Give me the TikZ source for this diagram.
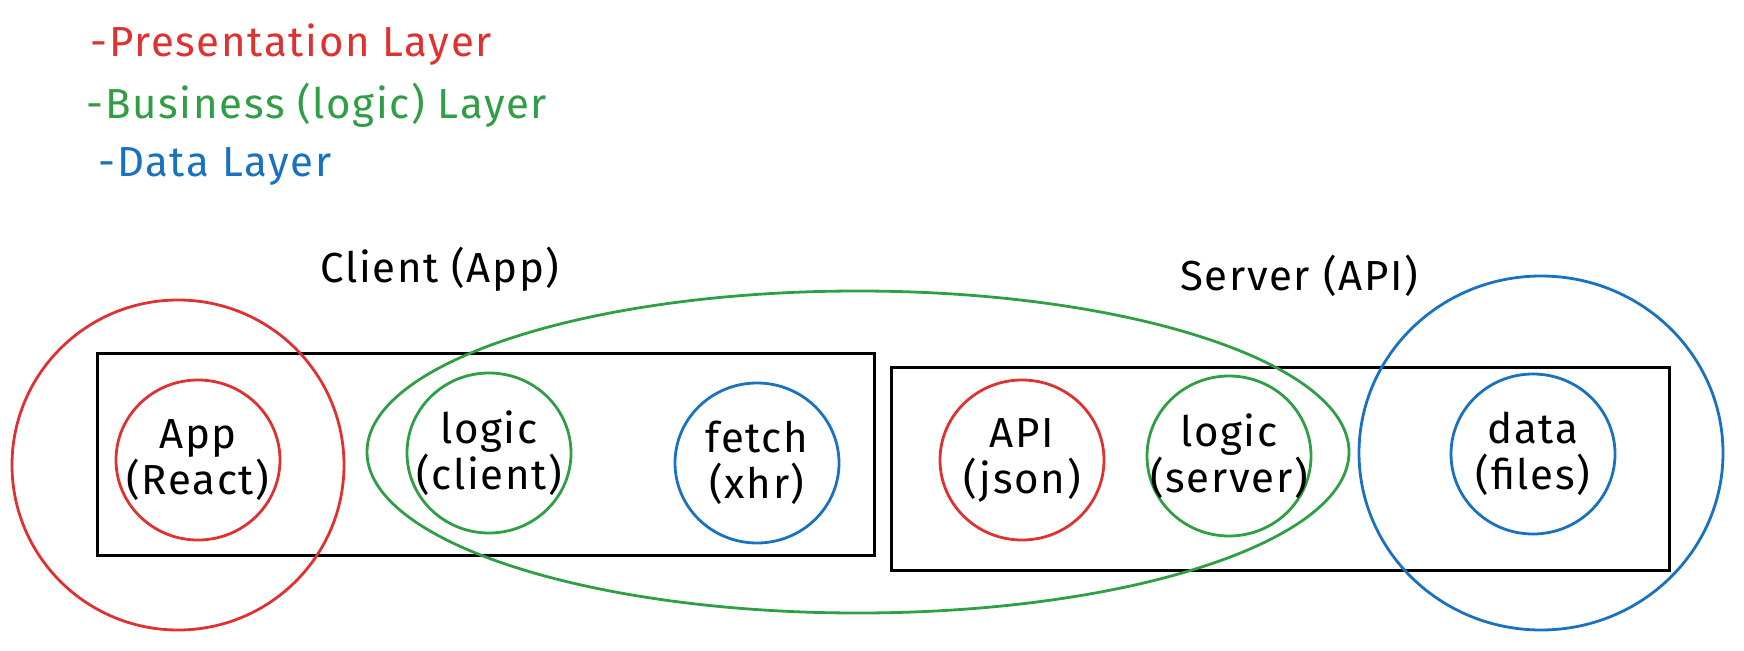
\documentclass[tikz,border=0pt]{standalone}
\usepackage{fontspec}
\setmainfont{Fira Sans}[LetterSpace=4]
\usetikzlibrary{positioning}
\usetikzlibrary{shapes.geometric}
\definecolor{xred}{RGB}{224,49,49}
\definecolor{xgreen}{RGB}{47,158,68}
\definecolor{xblue}{RGB}{25,113,194}

\begin{document}
\begin{tikzpicture}[x=1pt, y=-1pt,
    handfont/.style={font=\fontsize{42}{46}\selectfont},
    ring/.style={draw=#1, ellipse, line width=2.8pt, handfont, align=center,
        minimum width=164pt, minimum height=160pt, inner xsep=-30pt, inner ysep=0pt},
    zone/.style={draw=#1, line width=2.8pt},
    box/.style={draw=black, line width=3pt}]
    \useasboundingbox (0,0) rectangle (1744,650);

    % Legend
    \node[handfont, text=xred, anchor=base west] (lpres) at (87,57) {-Presentation Layer};
    \node[handfont, text=xgreen, anchor=base west] (lbus) at (83,118) {-Business (logic) Layer};
    \node[handfont, text=xblue, anchor=base west] (ldata) at (95,176) {-Data Layer};

    % Titles
    \node[handfont, anchor=base] (tclient) at (440,282) {Client (App)};
    \node[handfont, anchor=base] (tserver) at (1299,290) {Server (API)};

    % Boxes
    \draw[box] (97,353) rectangle (874,555);
    \draw[box] (891,367) rectangle (1669,570);

    % Client parts
    \node[ring=xred] (app) at (198,460) {App\\(React)};
    \node[ring=xgreen] (clogic) at (489,453) {logic\\(client)};
    \node[ring=xblue] (fetch) at (757,463) {fetch\\(xhr)};

    % Server parts
    \node[ring=xred] (api) at (1022,460) {API\\(json)};
    \node[ring=xgreen] (slogic) at (1229,456) {logic\\(server)};
    \node[ring=xblue] (data) at (1533,454) {data\\(files)};

    % Layer zones
    \draw[zone=xred] (178,465) ellipse [x radius=166, y radius=165];
    \draw[zone=xgreen] (858,452) ellipse [x radius=491, y radius=161];
    \draw[zone=xblue] (1541,453) ellipse [x radius=182, y radius=177];
\end{tikzpicture}
\end{document}
